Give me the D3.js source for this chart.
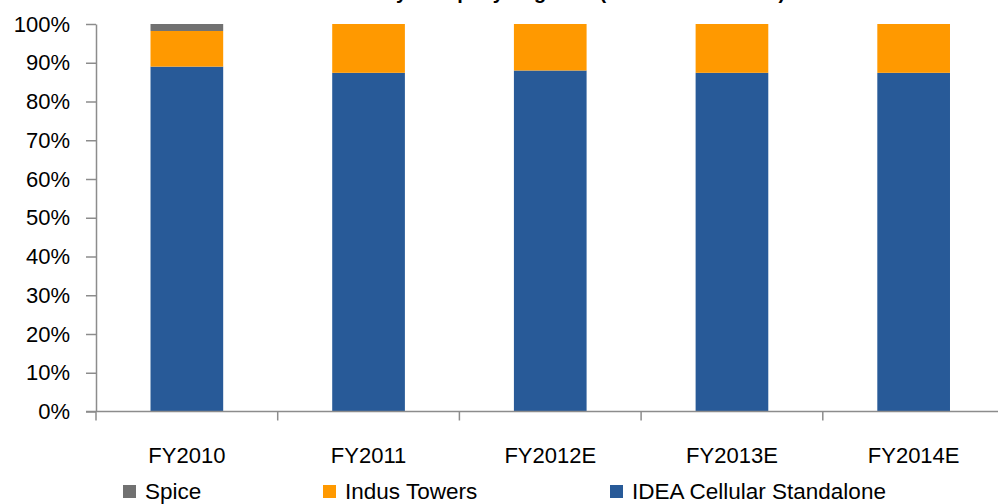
<!DOCTYPE html>
<html>
<head>
<meta charset="utf-8">
<script src="https://cdn.jsdelivr.net/npm/d3@7"></script>
<style>
  html, body { margin: 0; padding: 0; background: #fff; }
  svg { display: block; font-family: "Liberation Sans", Arial, sans-serif; }
</style>
</head>
<body>
<div id="chart"></div>
<script>
// ---- Data ----
const categories = ["FY2010", "FY2011", "FY2012E", "FY2013E", "FY2014E"];
const ideaStandalone = [0.89, 0.874, 0.88, 0.874, 0.874];
const indusTowers = [0.092, 0.126, 0.12, 0.126, 0.126];
const spice = [0.018, 0, 0, 0, 0];
const yTicks = [0, 0.1, 0.2, 0.3, 0.4, 0.5, 0.6, 0.7, 0.8, 0.9, 1.0];

const seriesKeys = ["idea", "indus", "spice"];
const colors = { idea: "#285A98", indus: "#FF9900", spice: "#717171" };
const legendItems = [
  { key: "spice", label: "Spice", x: 123 },
  { key: "indus", label: "Indus Towers", x: 323 },
  { key: "idea", label: "IDEA Cellular Standalone", x: 610 }
];

const W = 998, H = 504;
const axisColor = "#8c8c8c";

const svg = d3.select("#chart").append("svg")
  .attr("width", W).attr("height", H);

// title: the reference only shows its bottom edge
svg.append("text")
  .attr("x", 540).attr("y", -1)
  .attr("text-anchor", "middle")
  .attr("font-size", 20).attr("font-weight", "bold")
  .text("Revenue by Company Segment (% of total revenue)");

const x = d3.scaleBand()
  .domain(categories)
  .range([96, 1004.5])
  .paddingInner(0.6)
  .paddingOuter(0.3);

const y = d3.scaleLinear().domain([0, 1]).range([411.5, 24]);

const table = categories.map((c, i) => ({
  cat: c, idea: ideaStandalone[i], indus: indusTowers[i], spice: spice[i]
}));
const stacked = d3.stack().keys(seriesKeys)(table);

svg.append("g").selectAll("g")
  .data(stacked)
  .join("g")
  .attr("fill", d => colors[d.key])
  .selectAll("rect")
  .data(d => d)
  .join("rect")
  .attr("x", d => x(d.data.cat))
  .attr("width", x.bandwidth())
  .attr("y", d => y(d[1]))
  .attr("height", d => Math.max(0, y(d[0]) - y(d[1])));

// y axis
const yAxis = d3.axisLeft(y)
  .tickValues(yTicks)
  .tickFormat(d3.format(".0%"))
  .tickSize(10)
  .tickPadding(16)
  .tickSizeOuter(0);
const gy = svg.append("g").attr("transform", "translate(96,0)").call(yAxis);
gy.select(".domain").attr("stroke", axisColor).attr("stroke-width", 1.5);
gy.selectAll(".tick line").attr("stroke", axisColor).attr("stroke-width", 1.5);
gy.selectAll(".tick text")
  .attr("font-size", 22).attr("fill", "#000")
  .attr("font-family", "Liberation Sans, Arial, sans-serif");

// x axis
const gx = svg.append("g").attr("transform", "translate(0,411.5)");
gx.append("line")
  .attr("x1", 86).attr("x2", W)
  .attr("stroke", axisColor).attr("stroke-width", 1.5);
const step = x.step();
const boundaries = categories.map(c => x(c) - step * x.paddingInner() / 2);
gx.selectAll("line.tk")
  .data(boundaries)
  .join("line")
  .attr("class", "tk")
  .attr("x1", d => d).attr("x2", d => d)
  .attr("y1", 0).attr("y2", 9)
  .attr("stroke", axisColor).attr("stroke-width", 1.5);
gx.selectAll("text")
  .data(categories)
  .join("text")
  .attr("x", d => x(d) + x.bandwidth() / 2)
  .attr("y", 51)
  .attr("text-anchor", "middle")
  .attr("font-size", 22)
  .text(d => d);

// legend
const lg = svg.append("g").selectAll("g")
  .data(legendItems)
  .join("g")
  .attr("transform", d => `translate(${d.x},485)`);
lg.append("rect")
  .attr("width", 13).attr("height", 13)
  .attr("fill", d => colors[d.key]);
lg.append("text")
  .attr("x", 22).attr("y", 14)
  .attr("font-size", 22.5)
  .text(d => d.label);
</script>
</body>
</html>
